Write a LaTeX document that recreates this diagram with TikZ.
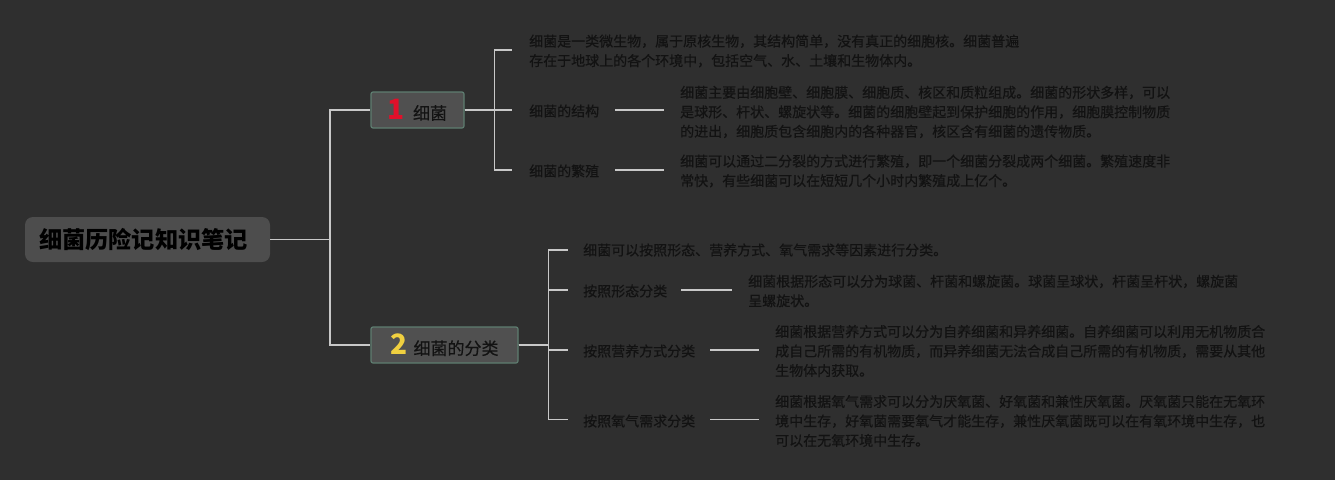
\documentclass[tikz,border=0pt]{standalone}
\usepackage{fontspec}
\newfontfamily\cjk{Noto Sans CJK SC}
\newfontfamily\cjkm[FakeBold=0.35]{Noto Sans CJK SC}
\definecolor{bgc}{HTML}{2F2F2F}
\definecolor{boxc}{HTML}{505050}
\definecolor{rootc}{HTML}{4D4D4D}
\definecolor{bordc}{HTML}{5E7D70}
\definecolor{linec}{HTML}{C8C8C8}
\definecolor{txtc}{HTML}{121212}
\definecolor{redc}{HTML}{E0102A}
\definecolor{yelc}{HTML}{F0D040}
\tikzset{
  rootbox/.style={rectangle, rounded corners=8pt, fill=rootc, minimum width=245pt, minimum height=45pt, inner sep=0pt, text=black, font=\cjk\bfseries\fontsize{23.2}{26}\selectfont},
  topicbox/.style={rectangle, rounded corners=2pt, fill=boxc, draw=bordc, line width=1.2pt, minimum height=36pt, inner sep=0pt, text=txtc, font=\cjkm\fontsize{17}{20}\selectfont},
  leaf/.style={anchor=west, inner sep=0pt, align=left, text=txtc, font=\cjkm\fontsize{14}{19.5}\selectfont},
  conn/.style={draw=linec, line width=1.5pt}
}
\begin{document}
\begin{tikzpicture}[x=1pt,y=-1pt]
\fill[bgc] (0,0) rectangle (1335,480);
\useasboundingbox (0,0) rectangle (1335,480);

\node[rootbox] (root) at (147.5,239.5) {\hspace*{-8pt}细菌历险记知识笔记};
\node[topicbox, minimum width=93pt] (t1) at (417.5,110) {\textcolor{redc}{\cjk\bfseries\fontsize{28}{28}\selectfont 1}\hspace{8pt}细菌};
\node[topicbox, minimum width=147pt] (t2) at (444.5,345) {\textcolor{yelc}{\cjk\bfseries\fontsize{28}{28}\selectfont 2}\hspace{6pt}细菌的分类};

% branch 1
\node[leaf] (c11) at (529,51) {细菌是一类微生物，属于原核生物，其结构简单，没有真正的细胞核。细菌普遍\\存在于地球上的各个环境中，包括空气、水、土壤和生物体内。};
\node[leaf] (c12) at (529,111) {细菌的结构};
\node[leaf] (d12) at (680,112) {细菌主要由细胞壁、细胞膜、细胞质、核区和质粒组成。细菌的形状多样，可以\\是球形、杆状、螺旋状等。细菌的细胞壁起到保护细胞的作用，细胞膜控制物质\\的进出，细胞质包含细胞内的各种器官，核区含有细菌的遗传物质。};
\node[leaf] (c13) at (529,171) {细菌的繁殖};
\node[leaf] (d13) at (680,171) {细菌可以通过二分裂的方式进行繁殖，即一个细菌分裂成两个细菌。繁殖速度非\\常快，有些细菌可以在短短几个小时内繁殖成上亿个。};

% branch 2
\node[leaf] (c21) at (583,250) {细菌可以按照形态、营养方式、氧气需求等因素进行分类。};
\node[leaf] (c22) at (583,291) {按照形态分类};
\node[leaf] (d22) at (748,291) {细菌根据形态可以分为球菌、杆菌和螺旋菌。球菌呈球状，杆菌呈杆状，螺旋菌\\呈螺旋状。};
\node[leaf] (c23) at (583,351) {按照营养方式分类};
\node[leaf] (d23) at (775,351) {细菌根据营养方式可以分为自养细菌和异养细菌。自养细菌可以利用无机物质合\\成自己所需的有机物质，而异养细菌无法合成自己所需的有机物质，需要从其他\\生物体内获取。};
\node[leaf] (c24) at (583,421) {按照氧气需求分类};
\node[leaf] (d24) at (775,421) {细菌根据氧气需求可以分为厌氧菌、好氧菌和兼性厌氧菌。厌氧菌只能在无氧环\\境中生存，好氧菌需要氧气才能生存，兼性厌氧菌既可以在有氧环境中生存，也\\可以在无氧环境中生存。};

% connectors root
\draw[conn] (root.east) -- ++(60,0) |- (t1.west);
\draw[conn] (root.east) -- ++(60,0) |- (t2.west);
% branch 1 connectors
\draw[conn] (t1.east) -- ++(30,0) |- ([xshift=-17pt,yshift=1pt]c11.west);
\draw[conn] (t1.east) -- ++(30,0) |- ([xshift=-17pt,yshift=1pt]c12.west);
\draw[conn] (t1.east) -- ++(30,0) |- ([xshift=-17pt,yshift=1pt]c13.west);
\draw[conn] ([xshift=16pt,yshift=1pt]c12.east) -- ([xshift=-16pt,yshift=1pt]c12.east -| d12.west);
\draw[conn] ([xshift=16pt,yshift=1pt]c13.east) -- ([xshift=-16pt,yshift=1pt]c13.east -| d13.west);
% branch 2 connectors
\draw[conn] (t2.east) -- ++(30,0) |- ([xshift=-15pt]c21.west);
\draw[conn] (t2.east) -- ++(30,0) |- ([xshift=-15pt,yshift=1pt]c22.west);
\draw[conn] (t2.east) -- ++(30,0) |- ([xshift=-15pt,yshift=1pt]c23.west);
\draw[conn] (t2.east) -- ++(30,0) |- ([xshift=-15pt,yshift=1.5pt]c24.west);
\draw[conn] ([xshift=14pt,yshift=1pt]c22.east) -- ([xshift=-16pt,yshift=1pt]c22.east -| d22.west);
\draw[conn] ([xshift=15pt,yshift=1pt]c23.east) -- ([xshift=-16pt,yshift=1pt]c23.east -| d23.west);
\draw[conn] ([xshift=15pt,yshift=1.5pt]c24.east) -- ([xshift=-16pt,yshift=1.5pt]c24.east -| d24.west);
\end{tikzpicture}
\end{document}
